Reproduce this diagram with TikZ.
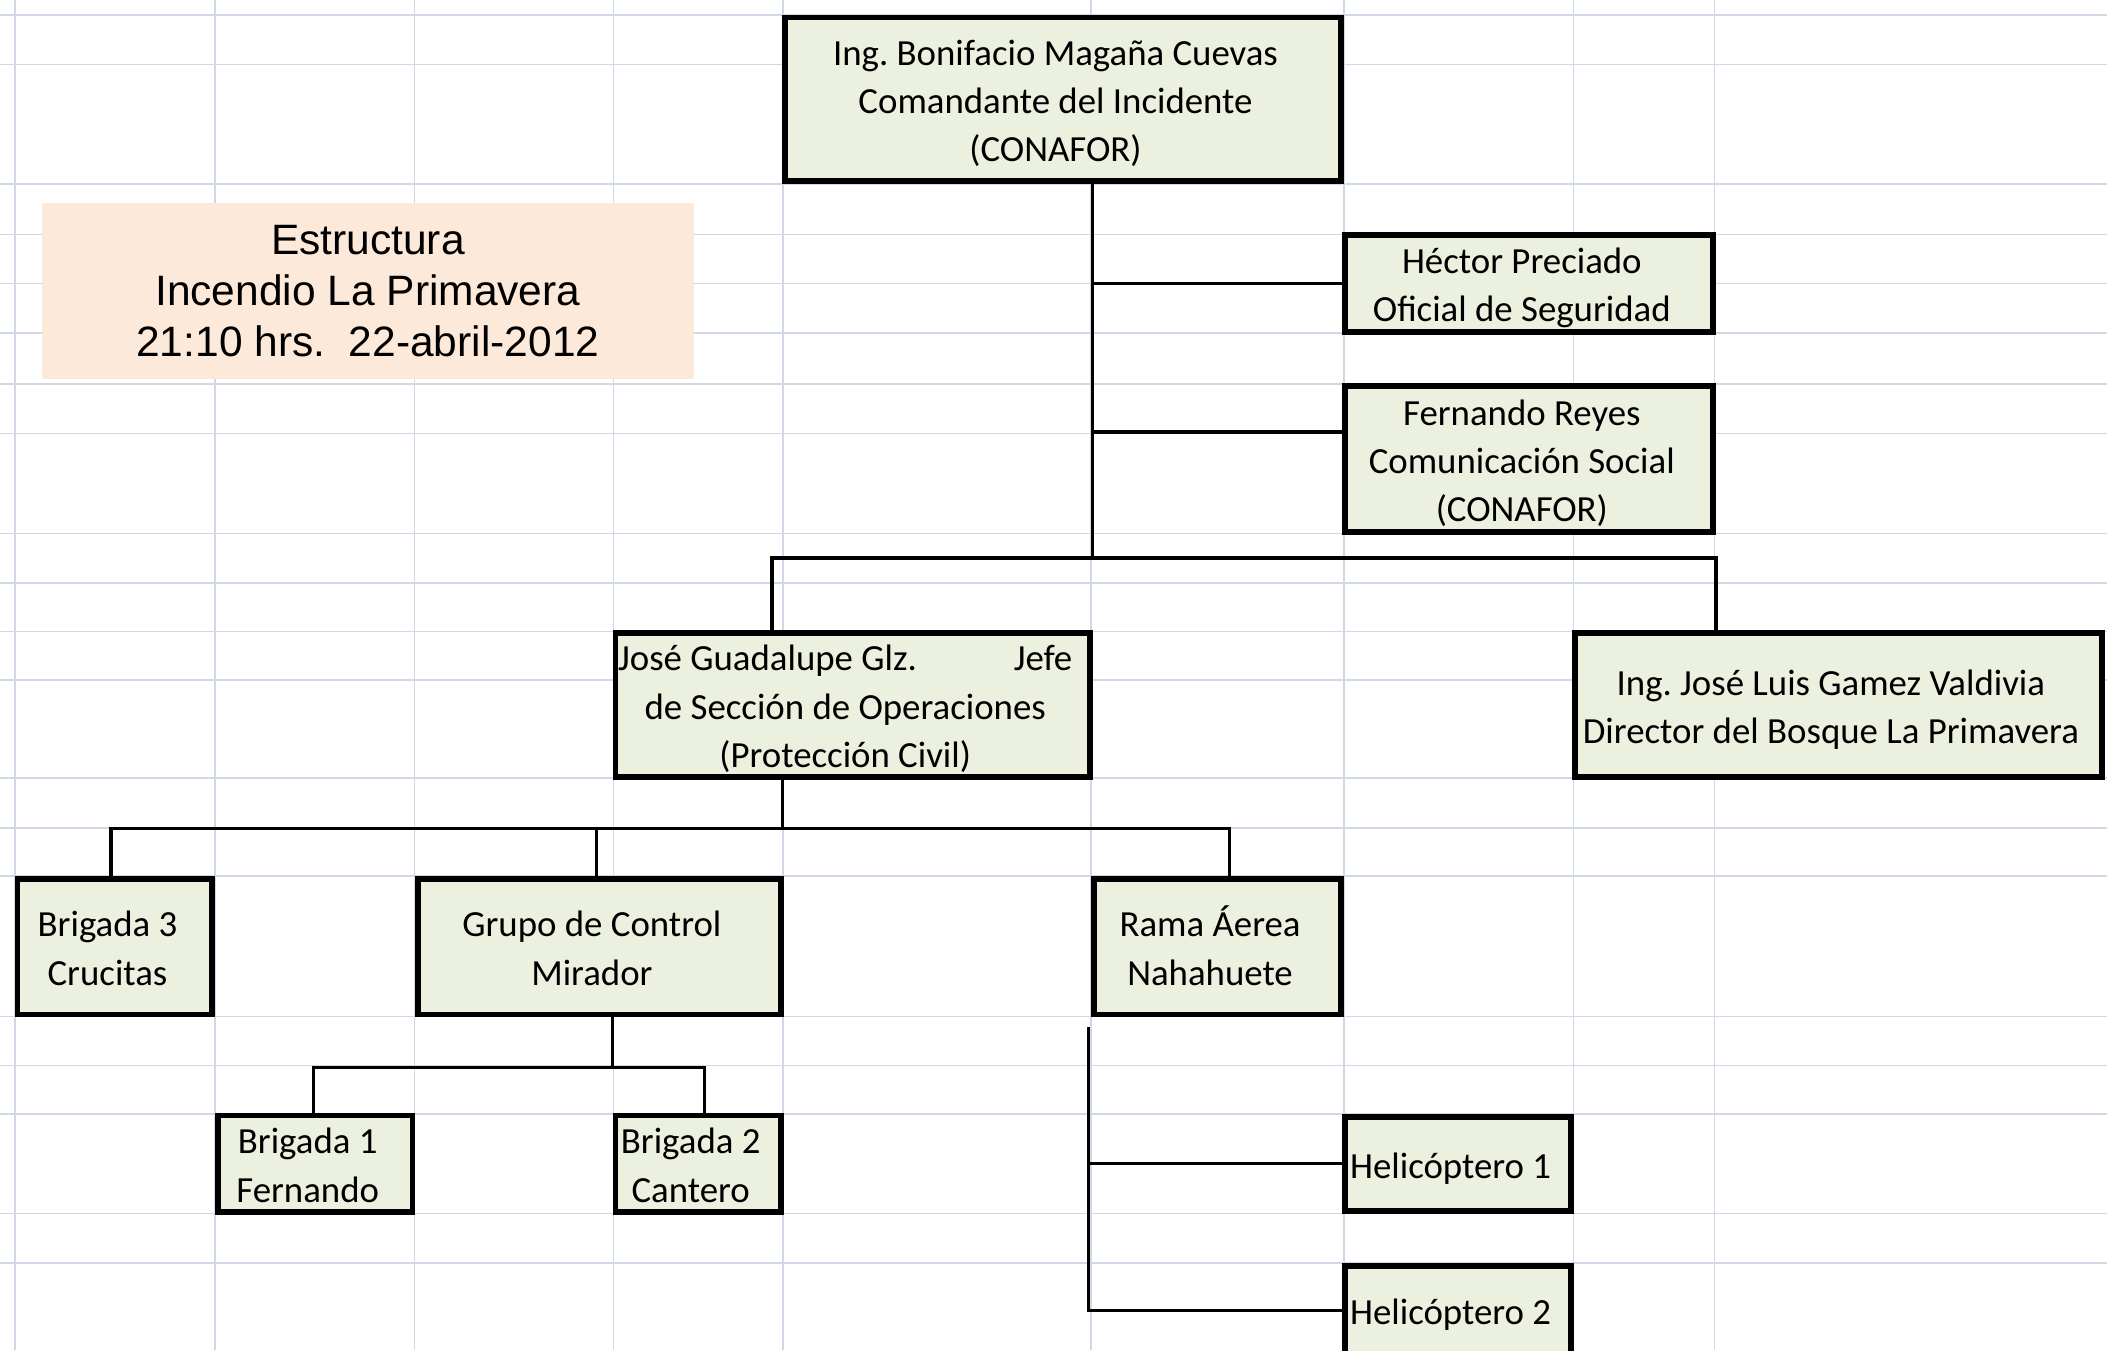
\documentclass[tikz,border=0pt]{standalone}
\usepackage{fontspec}
\setmainfont{Carlito}
\newfontfamily\arial{Liberation Sans}
\usetikzlibrary{calc}
\definecolor{rejilla}{HTML}{D0D7E5}
\definecolor{verde}{HTML}{EBF1DE}
\definecolor{durazno}{HTML}{FDE9D9}
\newcommand{\tx}[1]{\vbox{\kern0.07cm\hbox{\begin{tabular}{@{}c@{}}#1\end{tabular}\kern0.22cm}\kern-0.07cm}}

\begin{document}
\begin{tikzpicture}[x=0.02cm, y=-0.02cm,
  caja/.style={draw, line width=2.5pt, fill=verde, inner sep=0pt, font=\fontsize{15.6}{20.4}\selectfont},
  linea/.style={line width=1.4pt}]
\useasboundingbox (0,0) rectangle (1568,1005);
\fill[white] (0,0) rectangle (1568,1005);
\foreach \x in {11,160,308.5,456.5,582.5,812,1000,1171,1276}
  \draw[rejilla, line width=0.7pt] (\x,0) -- (\x,1005);
\foreach \y in {11,48,137,174.5,211,248,286,322.5,397,434,470,506,579,616,652,756.5,793,829,903,940}
  \draw[rejilla, line width=0.7pt] (0,\y) -- (1568,\y);

\node(T) [fill=durazno, minimum width=9.71cm, minimum height=2.63cm, align=center, font=\arial\fontsize{18}{21.5}\selectfont] at (273.75,216.5) {Estructura\\Incendio La Primavera\\21:10 hrs.~~22-abril-2012};

\node(A) [caja, minimum width=8.28cm, minimum height=2.44cm] at (791,74) {\tx{Ing.\ Bonifacio Magaña Cuevas\\Comandante del Incidente\\(CONAFOR)}};
\node(B) [caja, minimum width=5.48cm, minimum height=1.4cm] at (1138,211) {\tx{Héctor Preciado\\Oficial de Seguridad}};
\node(C) [caja, minimum width=5.48cm, minimum height=2.18cm] at (1138,341.5) {\tx{Fernando Reyes\\Comunicación Social\\(CONAFOR)}};
\node(D) [caja, minimum width=7.06cm, minimum height=2.14cm] at (634.5,524.5) {\tx{\makebox[6.76cm][s]{José Guadalupe Glz.\hfill Jefe}\\de Sección de Operaciones\\(Protección Civil)}};
\node(E) [caja, minimum width=7.84cm, minimum height=2.14cm] at (1368,524.5) {\tx{Ing.\ José Luis Gamez Valdivia\\Director del Bosque La Primavera}};
\node(F) [caja, minimum width=2.9cm, minimum height=2.02cm] at (85.5,704.5) {\tx{Brigada 3\\Crucitas}};
\node(G) [caja, minimum width=5.4cm, minimum height=2.02cm] at (446,704.5) {\tx{Grupo de Control\\Mirador}};
\node(H) [caja, minimum width=3.68cm, minimum height=2.02cm] at (906,704.5) {\tx{Rama Áerea\\Nahahuete}};
\node(I) [caja, minimum width=2.9cm, minimum height=1.4cm] at (234.5,866) {\tx{Brigada 1\\Fernando}};
\node(J) [caja, minimum width=2.46cm, minimum height=1.4cm] at (519.5,866) {\tx{Brigada 2\\Cantero}};
\node(K) [caja, minimum width=3.36cm, minimum height=1.4cm] at (1085,866) {\tx{Helicóptero 1}};
\node(L) [caja, minimum width=3.36cm, minimum height=1.32cm] at (1085,975) {\tx{Helicóptero 2}};

\coordinate (t1) at ($(A.south)+(22,0)$);
\coordinate (t2) at ($(t1)+(0,278)$);
\coordinate (c1) at ($(C.west)+(0,-20)$);
\draw[linea] (t1) -- (t2);
\draw[linea] (B.west) -- (B.west -| t1);
\draw[linea] (c1) -- (c1 -| t1);
\draw[linea] ($(D.north)+(-60,0)$) |- (t2) -| ($(E.north)+(-91,0)$);

\coordinate (t3) at ($(D.south)+(-52,36)$);
\coordinate (g1) at ($(G.north)+(-2,0)$);
\draw[linea] ($(D.south)+(-52,0)$) -- (t3);
\draw[linea] ($(F.north)+(-3,0)$) |- (t3) -| ($(H.north)+(9,0)$);
\draw[linea] (g1) -- (g1 |- t3);

\coordinate (t4) at ($(G.south)+(10,37)$);
\draw[linea] ($(G.south)+(10,0)$) -- (t4);
\draw[linea] ($(I.north)+(-1,0)$) |- (t4) -| ($(J.north)+(5,0)$);

\coordinate (t5) at ($(H.south west)+(-2,7)$);
\draw[linea] (t5) |- (L.west);
\draw[linea] (K.west) -- (K.west -| t5);
\end{tikzpicture}
\end{document}
